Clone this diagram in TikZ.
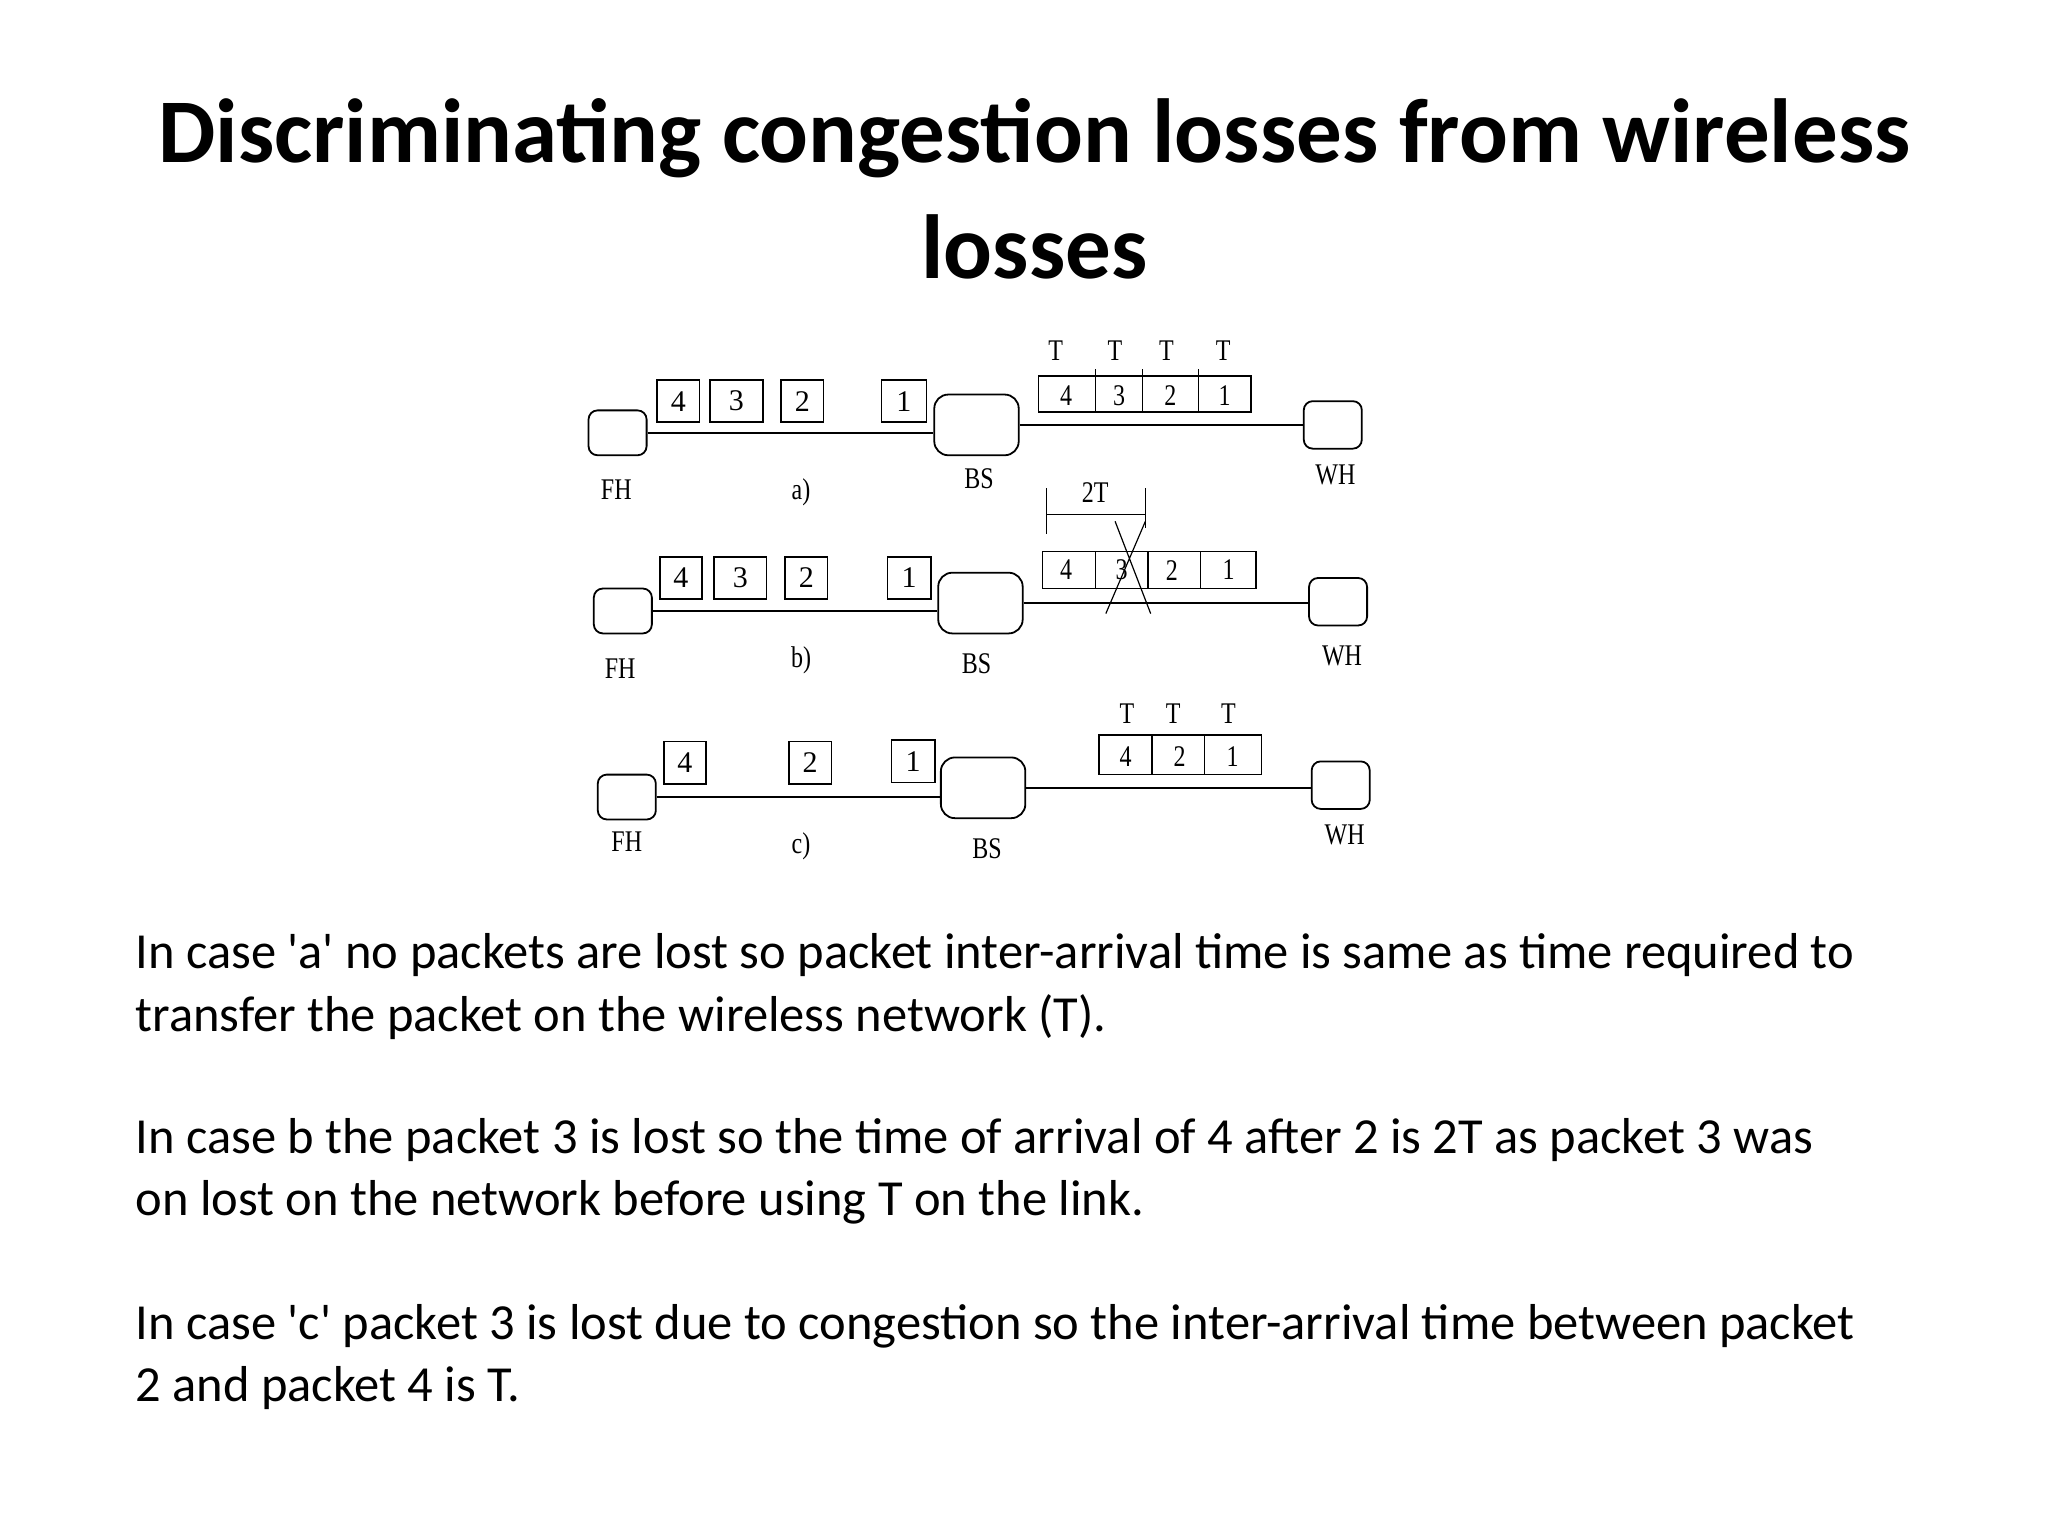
\documentclass[tikz,border=0pt]{standalone}
\usepackage{fontspec}
\setmainfont{Carlito}
\newfontfamily\serif{Liberation Serif}
\begin{document}
\begin{tikzpicture}[x=1.3196pt,y=-1.3196pt,
  host/.style={draw,line width=1.8pt,rounded corners=9pt,inner sep=0pt},
  pkt/.style={draw,line width=1.6pt,inner sep=0pt,minimum height=32*1.3196pt,font=\serif\fontsize{30}{30}\selectfont},
  lab/.style={font=\serif\fontsize{30}{30}\selectfont,xscale=0.8},
  link/.style={line width=1.8pt},
  body/.style={anchor=west,font=\fontsize{50.5}{50.5}\selectfont}]
\useasboundingbox (0,0) rectangle (1552,1164);
\fill[white] (0,0) rectangle (1552,1164);
\node[font=\bfseries\fontsize{91}{91}\selectfont] (t1) at (784,105) {Discriminating congestion losses from wireless};
\node[font=\bfseries\fontsize{91}{91}\selectfont] (t2) at (784,187) {losses};
% ---- row a
\node[host,minimum width=44*1.3196pt,minimum height=34*1.3196pt] (fa) at (468,328) {};
\node[host,minimum width=64*1.3196pt,minimum height=46*1.3196pt,rounded corners=14pt] (ba) at (740,322) {};
\node[host,minimum width=44*1.3196pt,minimum height=36*1.3196pt] (wa) at (1010,322) {};
\draw[link] (fa.east) -- (ba.west |- fa.east);
\draw[link] (ba.east) -- (wa.west |- ba.east);
\node[pkt,minimum width=32*1.3196pt] (a4) at (514,304) {4};
\node[pkt,minimum width=40*1.3196pt] (a3) at (558,304) {3};
\node[pkt,minimum width=32*1.3196pt] (a2) at (608,304) {2};
\node[pkt,minimum width=34*1.3196pt] (a1) at (685,304) {1};
\draw[line width=1.6pt] (787,285) rectangle (948,312);
\foreach \x in {830,866,908} \draw[line width=1.3pt] (\x,280) -- (\x,312);
\foreach \x/\n in {808/4,848/3,887/2,928/1} \node[lab] (aq\n) at (\x,300) {\n};
\foreach \x/\n in {800/1,845/2,884/3,927/4} \node[lab] (at\n) at (\x,266) {T};
\node[lab] (lfa) at (467,371) {FH};
\node[lab] (lxa) at (607,373) {a)};
\node[lab] (lba) at (742,363) {BS};
\node[lab] (lwa) at (1012,360) {WH};
% ---- row b
\node[host,minimum width=44*1.3196pt,minimum height=34*1.3196pt] (fb) at (472,463) {};
\node[host,minimum width=64*1.3196pt,minimum height=46*1.3196pt,rounded corners=14pt] (bb) at (743,457) {};
\node[host,minimum width=44*1.3196pt,minimum height=36*1.3196pt] (wb) at (1014,456) {};
\draw[link] (fb.east) -- (bb.west |- fb.east);
\draw[link] (bb.east) -- (wb.west |- bb.east);
\node[pkt,minimum width=32*1.3196pt] (b4) at (516,438) {4};
\node[pkt,minimum width=40*1.3196pt] (b3) at (561,438) {3};
\node[pkt,minimum width=32*1.3196pt] (b2) at (611,438) {2};
\node[pkt,minimum width=33*1.3196pt] (b1) at (689,438) {1};
\draw[line width=1.6pt] (790,418) rectangle (952,446);
\foreach \x in {830,870,910} \draw[line width=1.3pt] (\x,418) -- (\x,446);
\foreach \x/\n in {808/4,850/3,888/2,931/1} \node[lab] (bq\n) at (\x,432) {\n};
\draw[line width=1.6pt] (793,370) -- (793,405) (868,370) -- (868,400) (793,390) -- (868,390);
\node[lab] (l2t) at (830,373) {2T};
\draw[line width=1.2pt] (845,395) -- (872,465) (868,395) -- (838,465);
\node[lab] (lfb) at (470,507) {FH};
\node[lab] (lxb) at (607,500) {b)};
\node[lab] (lbb) at (740,503) {BS};
\node[lab] (lwb) at (1017,497) {WH};
% ---- row c
\node[host,minimum width=44*1.3196pt,minimum height=34*1.3196pt] (fc) at (475,604) {};
\node[host,minimum width=64*1.3196pt,minimum height=46*1.3196pt,rounded corners=14pt] (bc) at (745,597) {};
\node[host,minimum width=44*1.3196pt,minimum height=36*1.3196pt] (wc) at (1016,595) {};
\draw[link] (fc.east) -- (bc.west |- fc.east);
\draw[link] (bc.east) -- (wc.west |- bc.east);
\node[pkt,minimum width=32*1.3196pt] (c4) at (519,578) {4};
\node[pkt,minimum width=32*1.3196pt] (c2) at (614,578) {2};
\node[pkt,minimum width=33*1.3196pt] (c1) at (692,577) {1};
\draw[line width=1.6pt] (833,557) rectangle (956,587);
\foreach \x in {873,913} \draw[line width=1.3pt] (\x,557) -- (\x,587);
\foreach \x/\n in {853/4,894/2,934/1} \node[lab] (cq\n) at (\x,573) {\n};
\foreach \x/\n in {854/1,889/2,931/3} \node[lab] (ct\n) at (\x,541) {T};
\node[lab] (lfc) at (475,638) {FH};
\node[lab] (lxc) at (607,641) {c)};
\node[lab] (lbc) at (748,643) {BS};
\node[lab] (lwc) at (1019,633) {WH};
% ---- text
\node[body] (p1) at (100,724) {In case \textquotesingle a\textquotesingle\ no packets are lost so packet inter-arrival time is same as time required to};
\node[body] (p2) at (100,771) {transfer the packet on the wireless network (T).};
\node[body] (p3) at (100,864) {In case b the packet 3 is lost so the time of arrival of 4 after 2 is 2T as packet 3 was};
\node[body] (p4) at (100,911) {on lost on the network before using T on the link.};
\node[body] (p5) at (100,1005) {In case \textquotesingle c\textquotesingle\ packet 3 is lost due to congestion so the inter-arrival time between packet};
\node[body] (p6) at (100,1052) {2 and packet 4 is T.};
\end{tikzpicture}
\end{document}
